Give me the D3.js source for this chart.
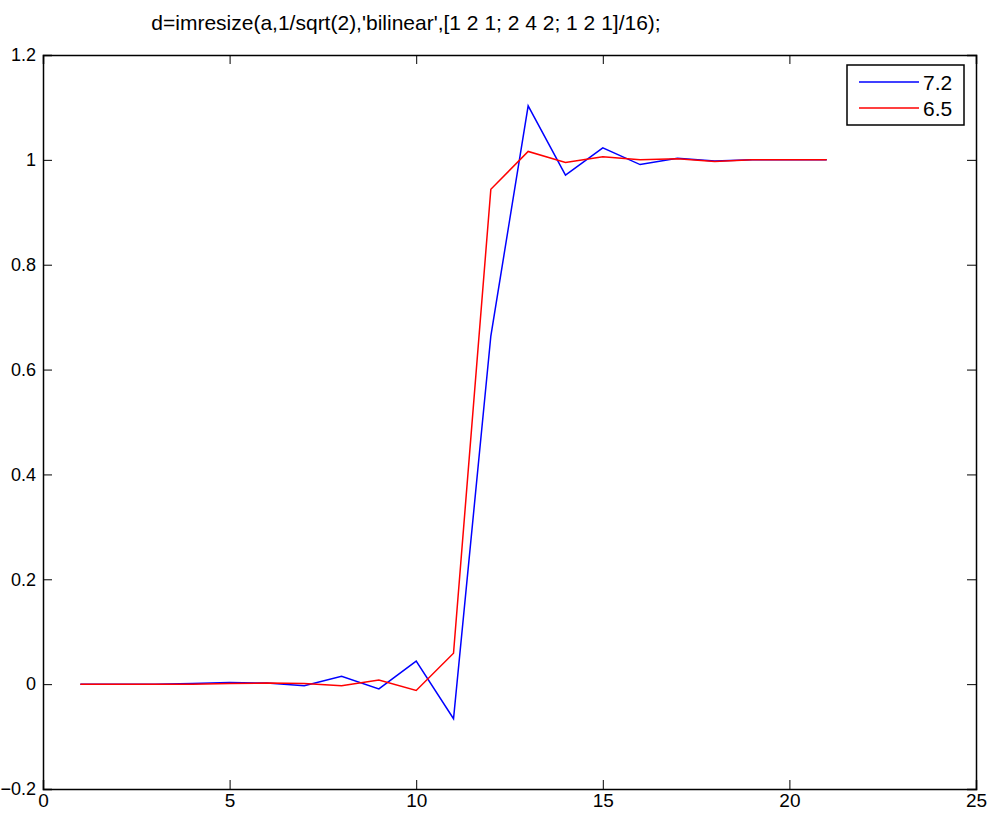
<!DOCTYPE html>
<html>
<head>
<meta charset="utf-8">
<script src="https://cdn.jsdelivr.net/npm/d3@7"></script>
<style>
  body { margin: 0; background: #fff; }
  svg text { font-family: "Liberation Sans", Arial, sans-serif; }
</style>
</head>
<body>
<div id="chart"></div>
<script>
// sample index along the profile
var xs = [1, 2, 3, 4, 5, 6, 7, 8, 9, 10, 11, 12, 13, 14, 15, 16, 17, 18, 19, 20, 21];
// version 7.2 output
var blue72 = [0, 0, 0, 0.001, 0.003, 0.002, -0.003, 0.015, -0.009, 0.044, -0.066, 0.664, 1.103, 0.971, 1.023, 0.991, 1.003, 0.998, 1.0, 1.0, 1.0];
// version 6.5 output
var red65 = [0, 0, 0, 0, 0.001, 0.002, 0.001, -0.003, 0.008, -0.012, 0.059, 0.944, 1.016, 0.995, 1.006, 1.0, 1.002, 0.997, 1.0, 1.0, 1.0];
var seriesNames = ['7.2', '6.5'];
var xTicks = [0, 5, 10, 15, 20, 25];
var yTicks = [-0.2, 0, 0.2, 0.4, 0.6, 0.8, 1, 1.2];
var title = "d=imresize(a,1/sqrt(2),'bilinear',[1 2 1; 2 4 2; 1 2 1]/16);";

var W = 991, H = 817;
var m = {left: 43, right: 15, top: 55, bottom: 28};
var w = W - m.left - m.right, h = H - m.top - m.bottom;

var svg = d3.select('#chart').append('svg').attr('width', W).attr('height', H);
var g = svg.append('g').attr('transform', 'translate(' + m.left + ',' + m.top + ')');

var x = d3.scaleLinear().domain([0, 25]).range([0, w]);
var y = d3.scaleLinear().domain([-0.2, 1.2]).range([h, 0]);

var fmt = function(d) { return d3.format('')(+d.toFixed(1)); };

// axes with inward ticks on all sides
var tk = 9;
var xAx = g.append('g').attr('transform', 'translate(0,' + h + ')')
  .call(d3.axisBottom(x).tickValues(xTicks).tickSize(-tk).tickPadding(5).tickFormat(fmt));
g.append('g')
  .call(d3.axisTop(x).tickValues(xTicks).tickSize(-tk).tickFormat(''));
var yAx = g.append('g')
  .call(d3.axisLeft(y).tickValues(yTicks).tickSize(-tk).tickPadding(7).tickFormat(fmt));
g.append('g').attr('transform', 'translate(' + w + ',0)')
  .call(d3.axisRight(y).tickValues(yTicks).tickSize(-tk).tickFormat(''));

g.selectAll('.domain').attr('stroke', '#000').attr('stroke-width', 1.5);
g.selectAll('.tick line').attr('stroke', '#000').attr('stroke-width', 1);
g.selectAll('.tick text').attr('fill', '#000');
xAx.selectAll('.tick text').attr('font-size', 19);
yAx.selectAll('.tick text').attr('font-size', 18);

// lines
var line = d3.line().x(function(d) { return x(d[0]); }).y(function(d) { return y(d[1]); });
var series = [
  {name: seriesNames[0], color: '#0000ff', vals: blue72},
  {name: seriesNames[1], color: '#ff0000', vals: red65}
];
series.forEach(function(s) {
  g.append('path')
    .datum(xs.map(function(v, i) { return [v, s.vals[i]]; }))
    .attr('d', line)
    .attr('fill', 'none')
    .attr('stroke', s.color)
    .attr('stroke-width', 1.5);
});

// title
svg.append('text').attr('x', 406).attr('y', 30).attr('text-anchor', 'middle')
  .attr('font-size', 21).text(title);

// legend
var lg = svg.append('g').attr('transform', 'translate(847,65)');
lg.append('rect').attr('width', 117).attr('height', 60)
  .attr('fill', '#fff').attr('stroke', '#000').attr('stroke-width', 1.5);
series.forEach(function(s, i) {
  var yy = 17 + i * 26;
  lg.append('line').attr('x1', 12).attr('x2', 72).attr('y1', yy).attr('y2', yy)
    .attr('stroke', s.color).attr('stroke-width', 1.5);
  lg.append('text').attr('x', 76).attr('y', yy + 8).attr('font-size', 21).text(s.name);
});
</script>
</body>
</html>
